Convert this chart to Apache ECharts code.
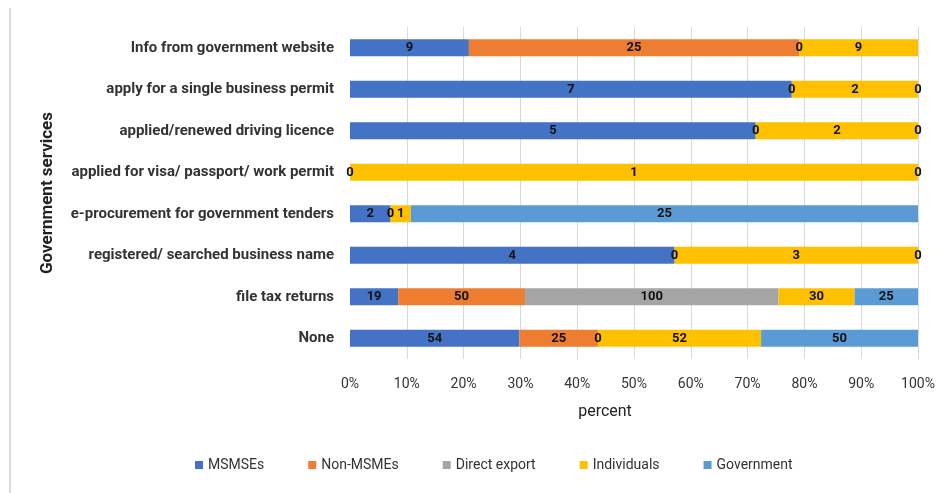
<!DOCTYPE html>
<html>
<head>
<meta charset="utf-8">
<script src="https://cdn.jsdelivr.net/npm/echarts@6/dist/echarts.min.js"></script>
<style>
  html, body { margin: 0; padding: 0; background: #fff; }
  #chart { width: 952px; height: 493px; }
</style>
</head>
<body>
<div id="chart"></div>
<script>
// Government services used, by respondent group (counts; bars show each group's share of the row)
const categories = [
  'Info from government website',
  'apply for a single business permit',
  'applied/renewed driving licence',
  'applied for visa/ passport/ work permit',
  'e-procurement for government tenders',
  'registered/ searched business name',
  'file tax returns',
  'None'
];
const seriesNames = ['MSMSEs', 'Non-MSMEs', 'Direct export', 'Individuals', 'Government'];
const msmses       = [9, 7, 5, 0, 2, 4, 19, 54];
const nonMsmes     = [25, null, null, null, null, null, 50, 25];
const directExport = [0, 0, 0, null, 0, 0, 100, 0];
const individuals  = [9, 2, 2, 1, 1, 3, 30, 52];
const government   = [0, 0, 0, 0, 25, 0, 25, 50];
const tickLabels = ['0%', '10%', '20%', '30%', '40%', '50%', '60%', '70%', '80%', '90%', '100%'];

const colors = ['#4472C4', '#ED7D31', '#A5A5A5', '#FFC000', '#5B9BD5'];
const groups = [msmses, nonMsmes, directExport, individuals, government];

// row totals for the 100% stack
const totals = categories.map((_, i) =>
  groups.reduce((s, g) => s + (g[i] == null ? 0 : g[i]), 0));

const FONT = 'Roboto';

const series = groups.map((g, k) => ({
  name: seriesNames[k],
  type: 'bar',
  stack: 'share',
  barWidth: 17,
  itemStyle: { color: colors[k] },
  label: {
    show: true,
    position: 'inside',
    color: '#111',
    fontFamily: FONT,
    fontSize: 13,
    fontWeight: 'bold',
    formatter: p => p.data.raw
  },
  data: g.map((v, i) => v == null ? '-' : { value: v / totals[i] * 100, raw: v })
}));

const chart = echarts.init(document.getElementById('chart'));
chart.setOption({
  animation: false,
  backgroundColor: '#fff',
  color: colors,
  grid: { left: 350, right: 34, top: 27, bottom: 134, containLabel: false },
  xAxis: {
    type: 'value',
    min: 0,
    max: 100,
    interval: 10,
    name: 'percent',
    nameLocation: 'middle',
    nameGap: 45,
    nameTextStyle: { fontFamily: FONT, fontSize: 16, color: '#222', padding: [0, 58, 0, 0] },
    axisLine: { show: false },
    axisTick: { show: false },
    axisLabel: {
      margin: 18,
      fontFamily: FONT,
      fontSize: 14,
      color: '#333',
      formatter: v => tickLabels[Math.round(v / 10)]
    },
    splitLine: { show: true, showMinLine: false, lineStyle: { color: '#d9d9d9', width: 1 } }
  },
  yAxis: {
    type: 'category',
    inverse: true,
    data: categories,
    name: 'Government services',
    nameLocation: 'middle',
    nameGap: 294,
    nameRotate: 90,
    nameTextStyle: { fontFamily: FONT, fontSize: 17, fontWeight: 'bold', color: '#222' },
    axisLine: { show: false },
    axisTick: { show: false },
    axisLabel: { margin: 16, fontFamily: FONT, fontSize: 15, fontWeight: 'bold', color: '#333' }
  },
  legend: {
    bottom: 16,
    left: 190,
    itemWidth: 8,
    itemHeight: 8,
    itemGap: 44,
    icon: 'rect',
    textStyle: { fontFamily: FONT, fontSize: 14, color: '#333' },
    data: seriesNames
  },
  graphic: [{
    type: 'line',
    shape: { x1: 10, y1: 8, x2: 10, y2: 493 },
    style: { stroke: '#d9d9d9', lineWidth: 2 }
  }],
  series: series
});
</script>
</body>
</html>
